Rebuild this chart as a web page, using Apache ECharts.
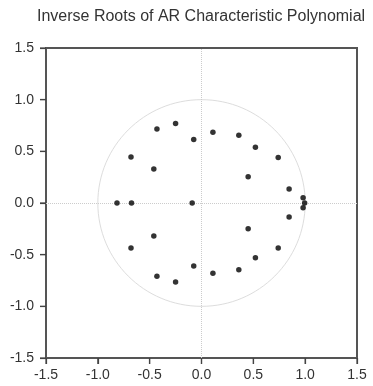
<!DOCTYPE html>
<html>
<head>
<meta charset="utf-8">
<script src="https://cdn.jsdelivr.net/npm/echarts@6/dist/echarts.min.js"></script>
<style>html,body{margin:0;padding:0;background:#fff;}#c{width:373px;height:386px;}</style>
</head>
<body>
<div id="c"></div>
<script>
const titleText = 'Inverse Roots of AR Characteristic Polynomial';
const rootReal = [-0.43, -0.25, -0.075, 0.11, -0.68, -0.46, -0.815, -0.675, -0.09,
  0.36, 0.52, 0.74, 0.45, 0.845, 0.98, 0.995, 0.98, 0.845,
  0.45, 0.74, 0.52, 0.36,
  -0.46, -0.68, -0.075, 0.11, -0.43, -0.25];
const rootImag = [0.715, 0.77, 0.615, 0.685, 0.445, 0.33, 0, 0, 0,
  0.655, 0.54, 0.44, 0.255, 0.135, 0.05, 0.0, -0.045, -0.135,
  -0.25, -0.435, -0.53, -0.645,
  -0.32, -0.435, -0.61, -0.68, -0.71, -0.765];
const tickValues = [-1.5, -1.0, -0.5, 0.0, 0.5, 1.0, 1.5];
const axisMin = -1.5, axisMax = 1.5, axisStep = 0.5;
const unitRadius = 1;

const points = rootReal.map((r, i) => [r, rootImag[i]]);
const font = 'Liberation Sans, Arial, sans-serif';
const tickLen = 6;
function makeAxis(pos, margin) {
  return {
    type: 'value', position: pos, min: axisMin, max: axisMax, interval: axisStep,
    axisLine: { show: true, onZero: false, lineStyle: { color: '#555', width: 2 } },
    axisTick: { show: true, inside: false, length: tickLen, lineStyle: { color: '#444', width: 1.2 } },
    axisLabel: { show: true, color: '#333', fontSize: 14, fontFamily: font, margin: margin, formatter: v => v.toFixed(1) },
    splitLine: { show: false }
  };
}
const chart = echarts.init(document.getElementById('c'), null, { renderer: 'canvas' });
chart.setOption({
  animation: false,
  backgroundColor: '#fff',
  title: { text: titleText, left: 32, top: 4, textStyle: { color: '#333', fontSize: 16, fontWeight: 'normal', fontFamily: font } },
  grid: { left: 46, right: 16, top: 48, bottom: 28, show: true, borderColor: '#555', borderWidth: 2, backgroundColor: 'transparent' },
  xAxis: makeAxis('bottom', 10),
  yAxis: makeAxis('left', 12),
  series: [
    {
      type: 'custom',
      silent: true,
      data: [[0, 0]],
      renderItem: (params, api) => {
        const c = api.coord([0, 0]);
        const s = api.size([unitRadius, unitRadius]);
        return { type: 'ellipse', shape: { cx: c[0], cy: c[1], rx: s[0], ry: s[1] }, style: { fill: 'none', stroke: '#ddd', lineWidth: 1 } };
      },
      z: 1,
      markLine: {
        silent: true, symbol: 'none', label: { show: false },
        lineStyle: { type: 'dotted', color: '#ccc', width: 1 },
        data: [{ xAxis: 0 }, { yAxis: 0 }]
      }
    },
    {
      type: 'scatter',
      data: points,
      symbolSize: 5.5,
      itemStyle: { color: '#000' },
      z: 5
    }
  ]
});

// Tick marks placed through the chart's own scales
const tickGraphics = [];
tickValues.forEach(v => {
  const b = chart.convertToPixel({ gridIndex: 0 }, [v, axisMin]);
  const l = chart.convertToPixel({ gridIndex: 0 }, [axisMin, v]);
  tickGraphics.push({
    type: 'line', silent: true, z: 100,
    shape: { x1: b[0], y1: b[1], x2: b[0], y2: b[1] + tickLen },
    style: { stroke: '#444', lineWidth: 1.2 }
  });
  tickGraphics.push({
    type: 'line', silent: true, z: 100,
    shape: { x1: l[0], y1: l[1], x2: l[0] - tickLen, y2: l[1] },
    style: { stroke: '#444', lineWidth: 1.2 }
  });
});
chart.setOption({ graphic: tickGraphics });
</script>
</body>
</html>
